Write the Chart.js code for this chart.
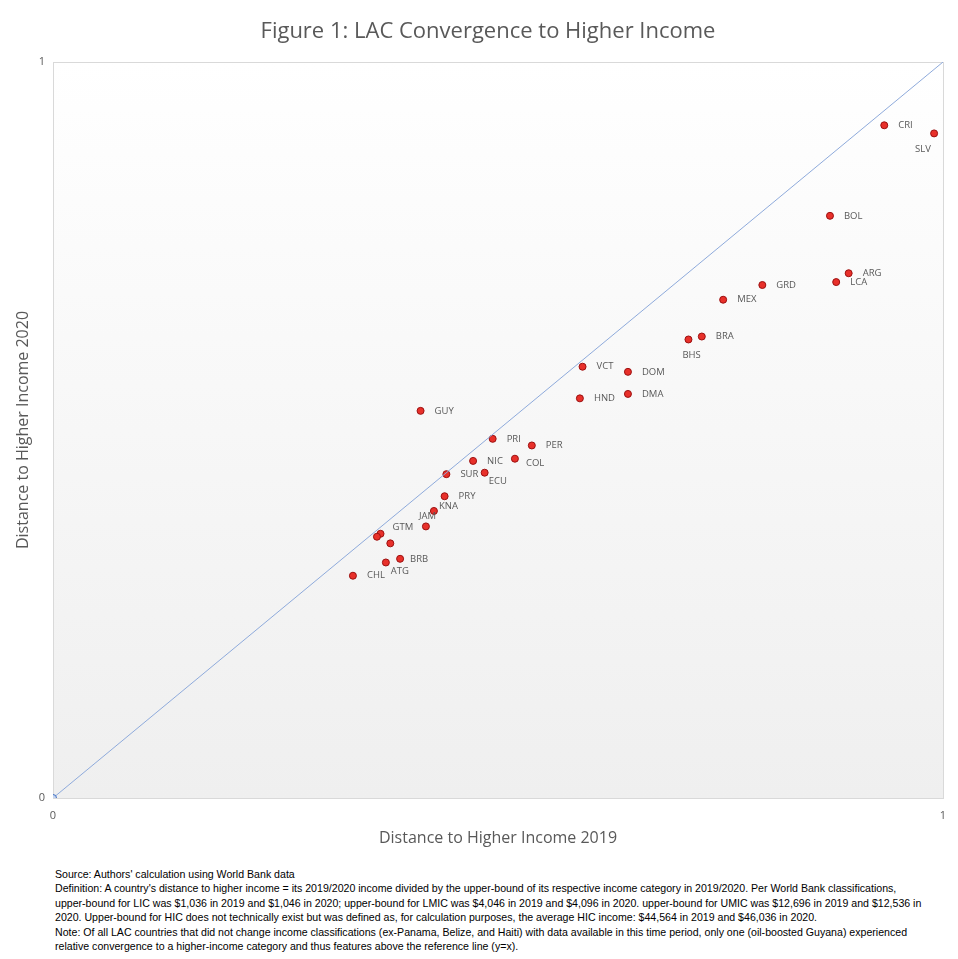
<!DOCTYPE html>
<html>
<head>
<meta charset="utf-8">
<script src="https://cdn.jsdelivr.net/npm/chart.js@4.4.1/dist/chart.umd.min.js"></script>
<style>
  body { margin: 0; background: #ffffff; }
  #wrap { position: relative; width: 958px; height: 860px; }
  #notes {
    position: absolute; left: 55px; top: 867px;
    font-family: "Liberation Sans Narrow", "Arial Narrow", sans-serif;
    font-size: 10.6px; line-height: 14.4px; color: #000000; white-space: nowrap;
  }
</style>
</head>
<body>
<div id="wrap"><canvas id="chart-convergence" width="958" height="860"></canvas></div>
<div id="notes">
Source: Authors' calculation using World Bank data<br>
Definition: A country's distance to higher income = its 2019/2020 income divided by the upper-bound of its respective income category in 2019/2020. Per World Bank classifications,<br>
upper-bound for LIC was $1,036 in 2019 and $1,046 in 2020; upper-bound for LMIC was $4,046 in 2019 and $4,096 in 2020. upper-bound for UMIC was $12,696 in 2019 and $12,536 in<br>
2020. Upper-bound for HIC does not technically exist but was defined as, for calculation purposes, the average HIC income: $44,564 in 2019 and $46,036 in 2020.<br>
Note: Of all LAC countries that did not change income classifications (ex-Panama, Belize, and Haiti) with data available in this time period, only one (oil-boosted Guyana) experienced<br>
relative convergence to a higher-income category and thus features above the reference line (y=x).
</div>
<script>
// data
const countries = ['CRI', 'SLV', 'BOL', 'ARG', 'LCA', 'GRD', 'MEX', 'BRA', 'BHS', 'VCT', 'DOM', 'HND', 'DMA', 'GUY',
    'PRI', 'PER', 'NIC', 'COL', 'SUR', 'ECU', 'PRY', 'KNA', 'JAM', 'GTM', '', '', 'BRB', 'ATG', 'CHL'];
const dist2019 = [0.934, 0.990, 0.873, 0.894, 0.880, 0.797, 0.753, 0.729, 0.714, 0.595, 0.646, 0.592, 0.646, 0.413,
    0.494, 0.538, 0.472, 0.519, 0.442, 0.485, 0.440, 0.428, 0.419, 0.368, 0.364, 0.379, 0.390, 0.374, 0.337];
const dist2020 = [0.914, 0.903, 0.791, 0.713, 0.701, 0.697, 0.677, 0.627, 0.623, 0.586, 0.579, 0.543, 0.549, 0.526,
    0.488, 0.479, 0.458, 0.461, 0.440, 0.442, 0.410, 0.390, 0.369, 0.359, 0.355, 0.346, 0.325, 0.320, 0.302];
const refLine = [0, 1];
const axisTicks = [0, 1];
const chartTitle = 'Figure 1: LAC Convergence to Higher Income';

// label placement (pixels from the point), default is to the right
const labelOffset = {
    SLV: [-19, 16], BHS: [-6, 16], ECU: [4, 9], COL: [11, 5], KNA: [5, -5],
    JAM: [-7, -10], GTM: [12, -6], BRB: [10, 0], ATG: [5, 9]
};

const points = dist2019.map((x, i) => ({ x: x, y: dist2020[i] }));
const diag = refLine.map(v => ({ x: v, y: v }));

const areaBackground = {
    id: 'areaBackground',
    beforeDatasetsDraw(chart) {
        const { ctx, chartArea: a } = chart;
        let g = ctx.createLinearGradient(0, a.top, 0, a.bottom);
        g.addColorStop(0, '#ffffff');
        g.addColorStop(1, '#efefef');
        ctx.save();
        ctx.fillStyle = g;
        ctx.fillRect(a.left, a.top, a.right - a.left, a.bottom - a.top);
        ctx.strokeStyle = '#d9d9d9';
        ctx.lineWidth = 1;
        ctx.strokeRect(a.left + 0.5, a.top + 0.5, a.right - a.left, a.bottom - a.top);
        ctx.restore();
    }
};

// title is drawn by hand so it sits where the office chart put it
const figureTitle = {
    id: 'figureTitle',
    afterDraw(chart) {
        const ctx = chart.ctx;
        ctx.save();
        ctx.font = '22px "Open Sans", sans-serif';
        ctx.fillStyle = '#595959';
        ctx.textAlign = 'center';
        ctx.textBaseline = 'middle';
        ctx.fillText(chartTitle, 488, 32);
        ctx.restore();
    }
};

const pointLabels = {
    id: 'pointLabels',
    afterDatasetsDraw(chart) {
        const ctx = chart.ctx;
        const meta = chart.getDatasetMeta(1);
        ctx.save();
        ctx.font = '9.5px "Open Sans", sans-serif';
        ctx.fillStyle = '#595959';
        ctx.textAlign = 'left';
        ctx.textBaseline = 'middle';
        meta.data.forEach((el, i) => {
            const name = countries[i];
            if (!name) return;
            const off = labelOffset[name] || [14, 0];
            ctx.fillText(name, el.x + off[0], el.y + off[1]);
        });
        ctx.restore();
    }
};

let ctc = document.getElementById('chart-convergence').getContext('2d');
let chart_convergence = new Chart(ctc, {
    type: 'scatter',
    data: {
        datasets: [{
            type: 'line',
            label: 'y = x',
            data: diag,
            borderColor: '#8eaadb',
            borderWidth: 1,
            pointRadius: [3.5, 0],
            pointBackgroundColor: '#c5d5f0',
            pointBorderColor: '#4472c4',
            pointBorderWidth: 1,
            fill: false
        }, {
            label: 'Countries',
            data: points,
            pointRadius: 3.5,
            pointBackgroundColor: '#e8302a',
            pointBorderColor: '#9c1010',
            pointBorderWidth: 1
        }]
    },
    options: {
        responsive: false,
        animation: false,
        layout: {
            padding: { left: 0, right: 15, top: 62, bottom: 0 }
        },
        scales: {
            x: {
                type: 'linear',
                min: 0,
                max: 1,
                afterBuildTicks: s => { s.ticks = axisTicks.map(v => ({ value: v })); },
                afterFit: s => { s.height = 62; },
                grid: { display: false, drawTicks: false },
                border: { display: false },
                ticks: { color: '#595959', font: { family: 'Open Sans', size: 11 }, padding: 11 },
                title: {
                    display: true,
                    text: 'Distance to Higher Income 2019',
                    color: '#595959',
                    font: { family: 'Open Sans', size: 16 },
                    padding: { top: 4, bottom: 12 }
                }
            },
            y: {
                type: 'linear',
                min: 0,
                max: 1,
                afterBuildTicks: s => { s.ticks = axisTicks.map(v => ({ value: v })); },
                afterFit: s => { s.width = 53; },
                grid: { display: false, drawTicks: false },
                border: { display: false },
                ticks: { color: '#595959', font: { family: 'Open Sans', size: 11 }, padding: 8 },
                title: {
                    display: true,
                    text: 'Distance to Higher Income 2020',
                    color: '#595959',
                    font: { family: 'Open Sans', size: 16 },
                    padding: { top: 14, bottom: 0 }
                }
            }
        },
        plugins: {
            legend: { display: false },
            tooltip: { enabled: false },
            title: { display: false }
        }
    },
    plugins: [areaBackground, pointLabels, figureTitle]
});
</script>
</body>
</html>
